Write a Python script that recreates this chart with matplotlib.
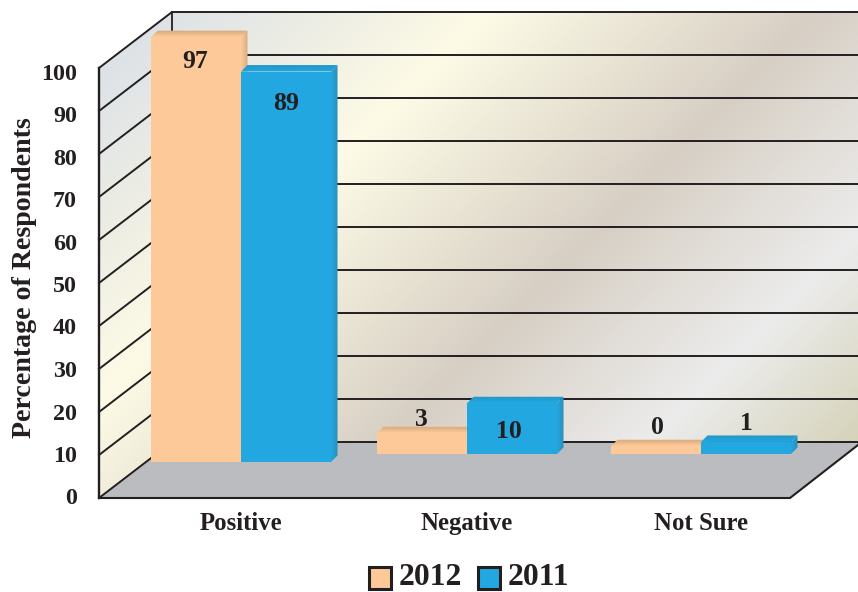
import numpy as np
import matplotlib
matplotlib.use('Agg')
import matplotlib.pyplot as plt
from matplotlib.colors import LinearSegmentedColormap, to_rgb
from matplotlib.patches import Polygon, Rectangle

categories = ['Positive', 'Negative', 'Not Sure']
values_2012 = [97, 3, 0]
values_2011 = [89, 10, 1]
y_ticks = [0, 10, 20, 30, 40, 50, 60, 70, 80, 90, 100]
series_names = ['2012', '2011']

plt.rcParams['font.family'] = ['Liberation Serif', 'DejaVu Serif']
INK = '#231f20'
ORANGE = '#fdc998'
BLUE = '#22a7e0'
FLOOR = '#bbbcc0'

# one unit on the value scale is 4.3 px, x is kept in px
PX = 1 / 4.3
WALL_DX, WALL_DY = 73, 56 * PX
SIDE_DX, SIDE_DY = 6.5, 6.5 * PX
LEFT, RIGHT = 99, 858
TOP = 100

# layout of the three groups (boundary between the two bars, foot of the bars)
group_x = [241, 467, 701]
group_foot = [(498 - 462) * PX, (498 - 454) * PX, (498 - 454) * PX]
bar_width = 90
lift = 1.8  # bars start a bit below their zero

fig = plt.figure(figsize=(8.58, 5.92), dpi=100)
ax = fig.add_axes([0, 0, 1, 1])
ax.set_axis_off()


def setlims():
    ax.set_xlim(0, 858)
    ax.set_ylim(-(592 - 498) * PX, 498 * PX)


def value_of(py):
    # px row of the picture to the value scale
    return (498 - py) * PX


setlims()

# wall colours run along the diagonal of the picture
wall_stops = [(0.0, '#dde2e7'), (0.16, '#eeeee4'), (0.29, '#fdfbe6'), (0.585, '#d7cfc4'),
              (0.82, '#ececec'), (1.0, '#d6d3ba')]
wall_cmap = LinearSegmentedColormap.from_list('wall', wall_stops)
xx, yy = np.meshgrid(np.linspace(99, 858, 380), np.linspace(12, 498, 240))
diag = (xx + yy - 167) / (1300 - 167)

left_wall = Polygon([(LEFT, 0), (LEFT + WALL_DX, WALL_DY), (LEFT + WALL_DX, TOP + WALL_DY), (LEFT, TOP)],
                    closed=True, fc='none', ec='none', zorder=1)
back_wall = Polygon([(LEFT + WALL_DX, WALL_DY), (RIGHT, WALL_DY), (RIGHT, TOP + WALL_DY), (LEFT + WALL_DX, TOP + WALL_DY)],
                    closed=True, fc='none', ec='none', zorder=1)
for wall in [left_wall, back_wall]:
    ax.add_patch(wall)
    img = ax.imshow(np.clip(diag, 0, 1), cmap=wall_cmap, vmin=0, vmax=1, aspect='auto', interpolation='bilinear',
                    extent=[99, 858, 0, (498 - 12) * PX], origin='upper', zorder=1)
    img.set_clip_path(wall)

# floor
ax.add_patch(Polygon([(LEFT, 0), (LEFT + WALL_DX, WALL_DY), (RIGHT, WALL_DY), (RIGHT, WALL_DY - 3 * PX), (790, 0)],
                     closed=True, fc=FLOOR, ec='none', zorder=2))

# grid lines, along the left wall then the back wall
for tick in y_ticks[1:-1] + [0]:
    ax.plot([LEFT, LEFT + WALL_DX, RIGHT], [tick, tick + WALL_DY, tick + WALL_DY], color=INK, lw=1.4,
            solid_joinstyle='miter', zorder=3)
ax.plot([LEFT, LEFT + WALL_DX, RIGHT], [TOP, TOP + WALL_DY, TOP + WALL_DY], color=INK, lw=1.4, zorder=3)
ax.plot([LEFT, LEFT], [0, TOP], color=INK, lw=1.7, zorder=3)
ax.plot([LEFT + WALL_DX] * 2, [WALL_DY, TOP + WALL_DY], color=INK, lw=1.3, zorder=3)
ax.plot([LEFT, 790, RIGHT], [0, 0, value_of(445)], color=INK, lw=1.5, zorder=3, solid_joinstyle='miter')


def shaded(points, start, end, horizontal, z):
    # small gradient polygon for the top and side faces of a bar
    patch = Polygon(points, closed=True, fc='none', ec='none', zorder=z)
    ax.add_patch(patch)
    pts = np.array(points)
    cmap = LinearSegmentedColormap.from_list('f', [to_rgb(start), to_rgb(end)])
    grad = np.linspace(0, 1, 16).reshape(1, -1) if horizontal else np.linspace(0, 1, 16).reshape(-1, 1)
    im = ax.imshow(grad, cmap=cmap, aspect='auto', zorder=z, origin='upper',
                   extent=[pts[:, 0].min(), pts[:, 0].max(), pts[:, 1].min(), pts[:, 1].max()])
    im.set_clip_path(patch)


def draw_bars(left_edges, vals, colour, top_dark, side_dark, z):
    heights = [v + lift for v in vals]
    ax.bar(left_edges, heights, width=bar_width, bottom=group_foot, align='edge', color=colour, lw=0, zorder=z + 1)
    for x0, h, foot in zip(left_edges, heights, group_foot):
        x1 = x0 + bar_width
        top = foot + h
        shaded([(x0, top), (x0 + SIDE_DX, top + SIDE_DY), (x1 + SIDE_DX, top + SIDE_DY), (x1, top)],
               top_dark, colour, False, z)
        shaded([(x1, foot), (x1 + SIDE_DX, foot + SIDE_DY), (x1 + SIDE_DX, top + SIDE_DY), (x1, top)],
               colour, side_dark, True, z)


draw_bars([x - bar_width for x in group_x], values_2012, ORANGE, '#d5a87c', '#d9ad80', 4)
draw_bars(group_x, values_2011, BLUE, '#2596c6', '#2b8fb8', 6)

# value labels, px row of each label centre
label_x_2012 = [195, 421, 657]
label_x_2011 = [286, 509, 746]
label_py_2012 = [62, 420, 428]
label_py_2011 = [104, 431, 424]
for lx, py, v in zip(label_x_2012 + label_x_2011, label_py_2012 + label_py_2011, values_2012 + values_2011):
    ax.text(lx, value_of(py), str(v), ha='center', va='center', fontsize=18.5, fontweight='bold', color=INK, zorder=9)

# axis text
for tick in y_ticks:
    ax.text(77, value_of(499 - tick * 4.25), str(tick), ha='right', va='center', fontsize=17.3, fontweight='bold',
            color=INK, zorder=9)
ax.text(24.5, value_of(278), 'Percentage of Respondents', rotation=90, ha='center', va='center',
        fontsize=20.1, fontweight='bold', color=INK, zorder=9)
for cx, name in zip(group_x, categories):
    ax.text(cx, value_of(530), name, ha='center', va='baseline', fontsize=17.8, fontweight='bold', color=INK, zorder=9)

# legend
for sx, colour, name in zip([369, 478], [ORANGE, BLUE], series_names):
    ax.add_patch(Rectangle((sx, value_of(589)), 22, 22 * PX, fc=colour, ec=INK, lw=2.2, zorder=9))
    ax.text(sx + 30, value_of(585), name, ha='left', va='baseline', fontsize=22.8, fontweight='bold', color=INK, zorder=9)

setlims()
fig.savefig('out.png', dpi=100)
